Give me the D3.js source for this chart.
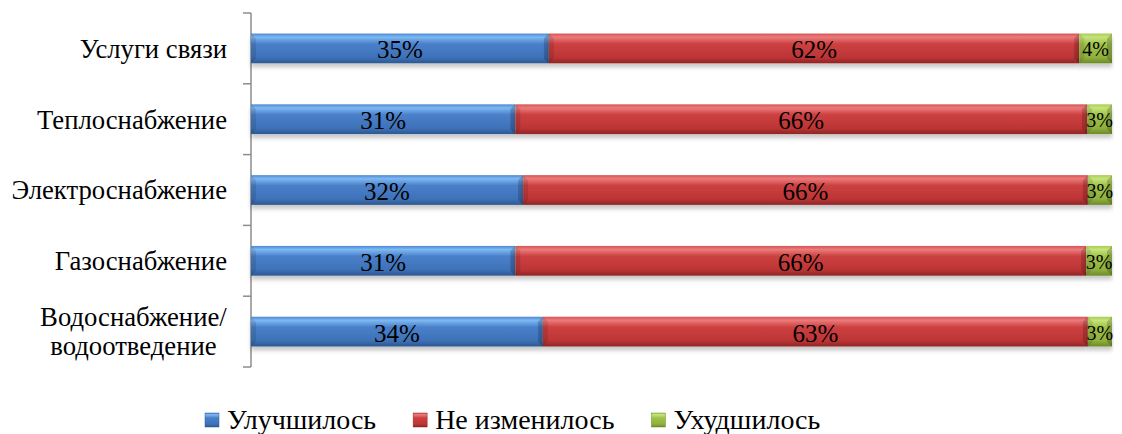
<!DOCTYPE html>
<html>
<head>
<meta charset="utf-8">
<script src="https://cdn.jsdelivr.net/npm/d3@7"></script>
<style>
  body { margin: 0; background: #fff; }
  svg { display: block; }
</style>
</head>
<body>
<div id="chart"></div>
<script>
// data (share of answers, %)
var categories = ["Услуги связи", "Теплоснабжение", "Электроснабжение", "Газоснабжение", "Водоснабжение/водоотведение"];
var seriesNames = ["Улучшилось", "Не изменилось", "Ухудшилось"];
var improved  = [34.6, 30.7, 31.6, 30.7, 33.9];
var unchanged = [61.6, 66.4, 65.6, 66.3, 63.3];
var worsened  = [3.8, 2.9, 2.8, 3.0, 2.8];

var width = 1122, height = 434;
var margin = {top: 13, right: 10, bottom: 67, left: 251};
var font = "'Liberation Serif', serif";

var rows = categories.map(function(c, i) {
  return {cat: c, "Улучшилось": improved[i], "Не изменилось": unchanged[i], "Ухудшилось": worsened[i]};
});

var svg = d3.select("#chart").append("svg")
  .attr("width", width)
  .attr("height", height)
  .style("font-family", font);

// gradients: light rim on top, darker base (Excel bevel look)
var palette = {
  "Улучшилось":    ["#4f88d2", "#7db9f3", "#4a80ca", "#3e72b8", "#2d5892"],
  "Не изменилось": ["#d65454", "#ec7b7b", "#cc4040", "#bd3535", "#8f2525"],
  "Ухудшилось":    ["#a9cc52", "#c6e47a", "#a0c24a", "#8fb03c", "#6c8a27"]
};
var defs = svg.append("defs");
seriesNames.forEach(function(s, i) {
  var g = defs.append("linearGradient").attr("id", "grad" + i)
    .attr("x1", 0).attr("y1", 0).attr("x2", 0).attr("y2", 1);
  var stops = [0, 0.12, 0.35, 0.8, 1];
  stops.forEach(function(o, k) {
    g.append("stop").attr("offset", o).attr("stop-color", palette[s][k]);
  });
});
var shadow = defs.append("filter").attr("id", "shadow")
  .attr("x", "-5%").attr("y", "-20%").attr("width", "110%").attr("height", "160%");
shadow.append("feDropShadow")
  .attr("dx", 0).attr("dy", 4).attr("stdDeviation", 2)
  .attr("flood-color", "#000").attr("flood-opacity", 0.22);

var x = d3.scaleLinear()
  .domain([0, 1])
  .range([margin.left, width - margin.right]);

var y = d3.scaleBand()
  .domain(categories)
  .range([margin.top, height - margin.bottom])
  .paddingInner(0.58)
  .paddingOuter(0.29);

var stacked = d3.stack()
  .keys(seriesNames)
  .offset(d3.stackOffsetExpand)(rows);

// axis line with tick marks between bands
var step = y.step();
var axis = svg.append("g").attr("stroke", "#8c8c8c").attr("stroke-width", 1.5);
axis.append("line")
  .attr("x1", margin.left).attr("x2", margin.left)
  .attr("y1", margin.top).attr("y2", height - margin.bottom);
d3.range(categories.length + 1).forEach(function(k) {
  var ty = margin.top + k * step;
  axis.append("line")
    .attr("x1", margin.left - 8).attr("x2", margin.left)
    .attr("y1", ty).attr("y2", ty);
});

// bars
var layers = svg.selectAll("g.layer")
  .data(stacked)
  .enter().append("g")
  .attr("class", "layer")
  .attr("fill", function(d, i) { return "url(#grad" + i + ")"; });

layers.selectAll("rect")
  .data(function(d) { return d; })
  .enter().append("rect")
  .attr("x", function(d) { return x(d[0]); })
  .attr("y", function(d) { return y(d.data.cat); })
  .attr("width", function(d) { return x(d[1]) - x(d[0]); })
  .attr("height", y.bandwidth())
  .attr("filter", "url(#shadow)");

// bevel corners at segment ends
layers.each(function(layer) {
  var g = d3.select(this);
  layer.forEach(function(d) {
    var x0 = x(d[0]), x1 = x(d[1]), y0 = y(d.data.cat), h = y.bandwidth(), b = 5;
    g.append("path")
      .attr("d", "M" + x0 + "," + y0 + "L" + (x0 + b) + "," + (y0 + b) + "L" + (x0 + b) + "," + (y0 + h - b) + "L" + x0 + "," + (y0 + h) + "Z")
      .attr("fill", "#000").attr("opacity", 0.1);
    g.append("path")
      .attr("d", "M" + x1 + "," + y0 + "L" + (x1 - b) + "," + (y0 + b) + "L" + (x1 - b) + "," + (y0 + h - b) + "L" + x1 + "," + (y0 + h) + "Z")
      .attr("fill", "#000").attr("opacity", 0.18);
  });
});

// value labels
layers.selectAll("text")
  .data(function(d) { return d.map(function(p) { p.key = d.key; return p; }); })
  .enter().append("text")
  .attr("x", function(d) { return (x(d[0]) + x(d[1])) / 2; })
  .attr("y", function(d) { return y(d.data.cat) + y.bandwidth() / 2; })
  .attr("dy", "0.4em")
  .attr("text-anchor", "middle")
  .attr("fill", "#000")
  .style("font-family", font)
  .style("font-size", function(d) { return d.key === "Ухудшилось" ? "20px" : "25px"; })
  .text(function(d) { return Math.round(d.data[d.key]) + "%"; });

// category labels
svg.selectAll("text.cat")
  .data(categories)
  .enter().append("text")
  .attr("class", "cat")
  .attr("fill", "#000")
  .style("font-family", font)
  .style("font-size", "26.7px")
  .each(function(c) {
    var t = d3.select(this);
    var cy = y(c) + y.bandwidth() / 2;
    var parts = c.indexOf("/") > 0 ? [c.slice(0, c.indexOf("/") + 1), c.slice(c.indexOf("/") + 1)] : [c];
    if (parts.length === 1) {
      t.attr("x", 227).attr("y", cy).attr("dy", "0.35em").attr("text-anchor", "end").text(c);
    } else {
      t.attr("text-anchor", "middle");
      parts.forEach(function(p, k) {
        t.append("tspan").attr("x", 0).attr("y", cy + (k - 0.5) * 29).attr("dy", "0.35em").text(p);
      });
      var w = this.getBBox().width;
      t.selectAll("tspan").attr("x", 227 - w / 2);
    }
  });

// legend
var legend = svg.append("g").attr("transform", "translate(0," + 420 + ")");
var lx = 205;
seriesNames.forEach(function(s, i) {
  legend.append("rect")
    .attr("x", lx).attr("y", -7).attr("width", 14).attr("height", 14)
    .attr("fill", "url(#grad" + i + ")")
    .attr("stroke", palette[s][4]).attr("stroke-width", 0.5);
  var t = legend.append("text")
    .attr("x", lx + 22).attr("y", 9)
    .style("font-family", font)
    .style("font-size", "28px")
    .text(s);
  lx += 22 + t.node().getComputedTextLength() + 37;
});
</script>
</body>
</html>
